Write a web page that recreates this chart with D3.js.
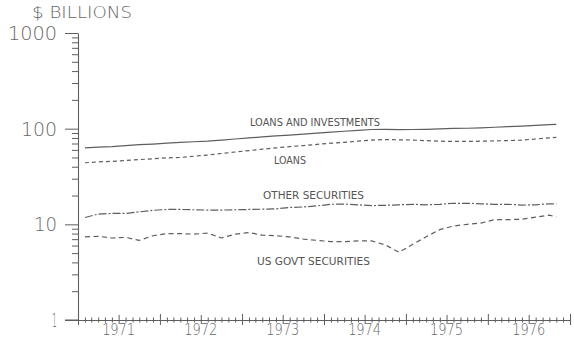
<!DOCTYPE html>
<html><head><meta charset="utf-8">
<script src="https://cdn.jsdelivr.net/npm/d3@7"></script>
<style>html,body{margin:0;padding:0;background:#fff;}svg{display:block;}</style>
</head><body>
<svg id="chart" width="574" height="345"></svg>
<script>
// ---- data ----
const months = ["1971-02","1971-04","1971-06","1971-08","1971-10","1971-12",
  "1972-02","1972-04","1972-06","1972-08","1972-10","1972-12",
  "1973-02","1973-04","1973-06","1973-08","1973-10","1973-12",
  "1974-02","1974-04","1974-06","1974-08","1974-10","1974-12",
  "1975-02","1975-04","1975-06","1975-08","1975-10","1975-12",
  "1976-02","1976-04","1976-06","1976-08","1976-10","1976-11"];
const loansAndInvestments = [63,64,65,66.5,68,69,70.5,72,73,74,76,78,80,82,84,85.5,87.5,90,92,94,96,98,98.5,97.5,98,98.5,99.5,100.5,101,102,103.5,105,106.5,108,110,111];
const loans = [44,45,45.5,46.5,47.5,48.5,49.5,50,51.5,53,55,57,59,61,63,65,66.5,68.5,70.5,72,74,76,77,76.5,76,75,74,73.5,73.5,74,74.5,75,76,78,80,81];
const otherSecurities = [11.8,12.8,13,13,13.5,14,14.3,14.3,14.2,14.1,14.1,14.2,14.3,14.4,14.5,15,15.2,15.6,16.2,16.3,16,15.7,15.8,16,16.2,16,16.2,16.6,16.6,16.4,16.2,16.2,15.9,16,16.4,16.4];
const usGovtSecurities = [7.4,7.5,7.2,7.3,6.8,7.6,8.0,8.0,7.9,8.1,7.2,7.9,8.2,7.7,7.6,7.4,7.0,6.8,6.6,6.6,6.7,6.7,6.1,5.1,6.2,7.4,8.8,9.6,10.0,10.3,11.2,11.2,11.3,11.9,12.5,11.9];
const yearLabels = ["1971","1972","1973","1974","1975","1976"];
const yMajor = [1,10,100,1000];
const seriesNames = ["LOANS AND INVESTMENTS","LOANS","OTHER SECURITIES","US GOVT SECURITIES"];

// ---- drawing ----
const ink = "#5e5e5e";
const textInk = "#666";
const font = "'DejaVu Sans', sans-serif";
const svg = d3.select("#chart");
const parse = d3.timeParse("%Y-%m");
const dates = months.map(parse);

const x = d3.scaleTime().domain([new Date(1971,0,1), new Date(1977,0,1)]).range([78, 570]);
const y = d3.scaleLog().domain([1, 1000]).range([320, 33]);

// y axis
const yTicks = [];
for (let e = 0; e < 3; e++) for (let k = 1; k <= 9; k++) yTicks.push(k * Math.pow(10, e));
yTicks.push(1000);
const gy = svg.append("g").attr("transform", "translate(78,0)")
  .call(d3.axisLeft(y).tickValues(yTicks).tickFormat("").tickSizeOuter(0));
gy.select(".domain").attr("stroke", ink).attr("stroke-width", 1.1);
gy.selectAll(".tick line").attr("stroke", ink).attr("stroke-width", 1)
  .attr("x2", d => yMajor.includes(d) ? -13 : -6);

// x axis
const gx = svg.append("g").attr("transform", "translate(0,320)")
  .call(d3.axisBottom(x).ticks(d3.timeMonth.every(1)).tickFormat("").tickSizeOuter(0));
gx.select(".domain").attr("stroke", ink).attr("stroke-width", 1.1);
gx.selectAll(".tick line").attr("stroke", ink).attr("stroke-width", 1)
  .attr("y1", d => d.getMonth() === 0 ? -6 : d.getMonth() === 6 ? -5 : -2.5)
  .attr("y2", d => d.getMonth() === 0 ? 5 : d.getMonth() === 6 ? 4 : 2.5);
svg.append("line").attr("x1", 65).attr("x2", 78).attr("y1", y(1)).attr("y2", y(1))
  .attr("stroke", ink).attr("stroke-width", 1);

// year labels at mid-year
svg.append("g").selectAll("text").data(yearLabels).join("text")
  .attr("x", d => x(new Date(+d, 6, 1)))
  .attr("y", 335)
  .attr("text-anchor", "middle")
  .attr("font-family", font).attr("font-weight", 200).attr("font-size", 15.5)
  .attr("textLength", 33).attr("lengthAdjust", "spacingAndGlyphs")
  .attr("fill", textInk).text(d => d);

// y labels
const yLabW = {1:5, 10:23, 100:36, 1000:49};
svg.append("g").selectAll("text").data(yMajor).join("text")
  .attr("x", 57).attr("y", d => y(d) + 7)
  .attr("text-anchor", "end")
  .attr("font-family", font).attr("font-weight", 200).attr("font-size", 19)
  .attr("textLength", d => yLabW[d]).attr("lengthAdjust", "spacingAndGlyphs")
  .attr("fill", textInk).text(d => d);

svg.append("text").attr("x", 32).attr("y", 18)
  .attr("font-family", font).attr("font-weight", 200).attr("font-size", 15)
  .attr("textLength", 100).attr("lengthAdjust", "spacingAndGlyphs")
  .attr("fill", textInk).text("$ BILLIONS");

// lines
const series = [
  {vals: loansAndInvestments, dash: null},
  {vals: loans, dash: "4,3"},
  {vals: otherSecurities, dash: "8,2,2,2"},
  {vals: usGovtSecurities, dash: "5,3.5"}
];
const line = d3.line().x(d => x(d[0])).y(d => y(d[1]));
svg.append("g").selectAll("path").data(series).join("path")
  .attr("d", s => line(dates.map((dt, i) => [dt, s.vals[i]])))
  .attr("fill", "none").attr("stroke", ink).attr("stroke-width", 1.2)
  .attr("stroke-dasharray", s => s.dash);

// series labels
const labelPos = [
  {x: 250, y: 126, w: 130},
  {x: 274, y: 164, w: 32},
  {x: 263, y: 199, w: 101},
  {x: 257, y: 265, w: 113}
];
svg.append("g").selectAll("text").data(seriesNames).join("text")
  .attr("x", (d, i) => labelPos[i].x).attr("y", (d, i) => labelPos[i].y)
  .attr("font-family", font).attr("font-size", 11)
  .attr("textLength", (d, i) => labelPos[i].w).attr("lengthAdjust", "spacingAndGlyphs")
  .attr("fill", "#555").text(d => d);
</script>
</body></html>
